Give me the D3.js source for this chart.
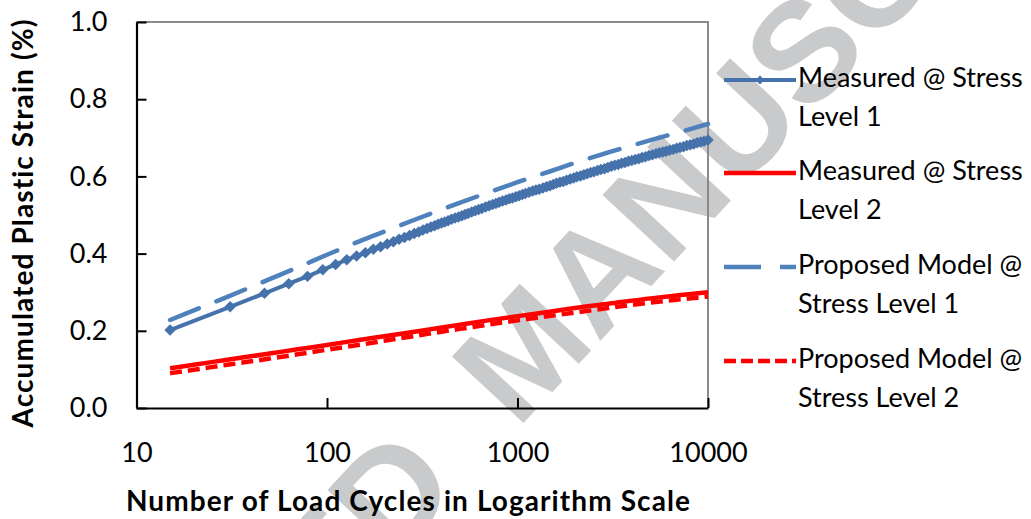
<!DOCTYPE html>
<html><head><meta charset="utf-8">
<script src="https://cdn.jsdelivr.net/npm/d3@7"></script>
<style>body{margin:0;background:#fff;} svg{display:block;}</style>
</head><body><svg id="c" width="1031" height="519"></svg>
<script>
// ---- data ----
const measured1Cycles = [15,31,47,63,79,95,111,127,143,159,175,191,207,223,239,255,271,287,303,319,335,351,367,383,399,
  415,432,450,470,490,510,530,550,575,600,625,650,680,710,740,770,800,835,870,905,940,980,1020,1060,1100,1150,1200,1250,1300,
  1360,1420,1480,1540,1600,1670,1740,1810,1890,1970,2050,2140,2230,2320,2420,2520,2630,2740,2860,2980,3110,3240,3380,3520,
  3670,3820,3980,4150,4330,4510,4700,4900,5110,5330,5550,5790,6030,6290,6560,6840,7130,7430,7740,8070,8410,8770,9140,9530,9999];
const measured1Strain = [0.202,0.262,0.297,0.322,0.341,0.358,0.372,0.384,0.394,0.402,0.411,0.418,0.425,0.431,0.437,0.442,0.447,0.452,0.456,0.461,0.465,0.469,0.472,0.476,0.479,
  0.482,0.485,0.489,0.492,0.495,0.498,0.501,0.504,0.508,0.511,0.514,0.517,0.521,0.524,0.527,0.530,0.533,0.536,0.539,0.542,0.544,0.547,0.550,0.553,0.556,0.559,0.562,0.565,0.567,
  0.570,0.573,0.576,0.579,0.582,0.585,0.587,0.590,0.593,0.596,0.599,0.601,0.604,0.607,0.610,0.612,0.615,0.618,0.620,0.623,0.626,0.629,0.631,0.634,
  0.636,0.639,0.641,0.644,0.646,0.649,0.651,0.654,0.656,0.659,0.661,0.663,0.665,0.668,0.670,0.673,0.675,0.677,0.680,0.682,0.684,0.687,0.689,0.691,0.694];
const curveCycles     = [15,20,30,50,70,100,150,200,300,500,700,1000,1500,2000,3000,5000,7000,10000];
const measured2Strain = [0.103,0.112,0.125,0.141,0.152,0.163,0.177,0.186,0.199,0.216,0.227,0.238,0.250,0.259,0.270,0.284,0.292,0.300];
const model1Strain    = [0.228,0.253,0.288,0.334,0.364,0.397,0.433,0.457,0.491,0.532,0.558,0.585,0.614,0.635,0.662,0.694,0.714,0.736];
const model2Strain    = [0.090,0.099,0.112,0.128,0.139,0.151,0.164,0.174,0.188,0.205,0.216,0.227,0.239,0.247,0.259,0.273,0.281,0.289];
const xTicks = [10,100,1000,10000];
const yTicks = [0,0.2,0.4,0.6,0.8,1.0];
const seriesNames = [["Measured @ Stress","Level 1"],["Measured @ Stress","Level 2"],["Proposed Model @","Stress Level 1"],["Proposed Model @","Stress Level 2"]];
const xTitle = "Number of Load Cycles in Logarithm Scale";
const yTitle = "Accumulated Plastic Strain (%)";
const watermarkWords = ["ACCEPTED","MANUSCRIPT"];

// ---- styles ----
const FONT = "Lato, 'Open Sans', sans-serif";
const BLUE_M = "#4672ab", BLUE_P = "#4f81bd", RED = "#ff0000";

const svg = d3.select("#c");
const x = d3.scaleLog().domain([10,10000]).range([136.5,708]);
const y = d3.scaleLinear().domain([0,1]).range([408,22]);

// watermark (behind everything)
const wm = svg.append("g").attr("transform","translate(517,430) rotate(-47)")
  .attr("font-family","'Liberation Sans', Arial, sans-serif")
  .attr("font-weight","bold").attr("font-size",142).attr("fill","#c9cacb");
wm.append("text").text(watermarkWords[0]).attr("x",-80).attr("text-anchor","end");
wm.append("text").text(watermarkWords[1]).attr("x",0).attr("text-anchor","start");

// frame (top/right gray)
svg.append("path").attr("d",`M${x(10)},${y(1)}H${x(10000)}V${y(0)}`)
  .attr("fill","none").attr("stroke","#8a8a8a").attr("stroke-width",2);

// axes
const gy = svg.append("g").attr("transform",`translate(${x(10)},0)`)
  .call(d3.axisLeft(y).tickValues(yTicks).tickFormat(d3.format(".1f")).tickSize(-10).tickSizeOuter(0).tickPadding(29));
const gx = svg.append("g").attr("transform",`translate(0,${y(0)})`)
  .call(d3.axisBottom(x).tickValues(xTicks).tickFormat(d3.format("d")).tickSize(-10).tickSizeOuter(0).tickPadding(35));
[gy,gx].forEach(g=>{
  g.select(".domain").attr("stroke","#000").attr("stroke-width",2.2);
  g.selectAll(".tick line").attr("stroke","#000").attr("stroke-width",2);
  g.selectAll(".tick text").attr("font-family",FONT).attr("font-size",27).attr("fill","#000");
});

// series
const pts1 = measured1Cycles.map((c,i)=>[c,measured1Strain[i]]);
const line = d3.line().x(d=>x(d[0])).y(d=>y(d[1]));
const smooth = d3.line().x(d=>x(d[0])).y(d=>y(d[1])).curve(d3.curveMonotoneX);
const mk = (arr)=>curveCycles.map((c,i)=>[c,arr[i]]);

svg.append("path").attr("d",line(pts1)).attr("fill","none").attr("stroke",BLUE_M).attr("stroke-width",4);
const diamond = d3.symbol(d3.symbolSquare, 66)();
svg.append("g").selectAll("path").data(pts1).join("path")
  .attr("d",diamond).attr("fill",BLUE_M)
  .attr("transform",d=>`translate(${x(d[0])},${y(d[1])}) rotate(45)`);

svg.append("path").attr("d",smooth(mk(measured2Strain))).attr("fill","none").attr("stroke",RED).attr("stroke-width",4.5);
svg.append("path").attr("d",smooth(mk(model1Strain))).attr("fill","none").attr("stroke",BLUE_P).attr("stroke-width",4.5)
  .attr("stroke-dasharray","31,19").attr("stroke-linecap","round");
svg.append("path").attr("d",smooth(mk(model2Strain))).attr("fill","none").attr("stroke",RED).attr("stroke-width",4.5)
  .attr("stroke-dasharray","12,6");

// legend
const legY = [80,173,267,361];
const lg = svg.append("g");
seriesNames.forEach((nm,i)=>{
  const yy = legY[i];
  const l = lg.append("line").attr("x1",724).attr("x2",796).attr("y1",yy).attr("y2",yy).attr("stroke-width",4.5);
  if(i===0){ l.attr("stroke",BLUE_M).attr("stroke-width",4);
    lg.append("path").attr("d",d3.symbol(d3.symbolSquare,40)()).attr("fill",BLUE_M).attr("transform",`translate(760,${yy}) rotate(45)`);}
  if(i===1) l.attr("stroke",RED);
  if(i===2) l.attr("stroke",BLUE_P).attr("stroke-dasharray","37,19");
  if(i===3) l.attr("stroke",RED).attr("stroke-dasharray","12,5");
  nm.forEach((t,j)=>{
    lg.append("text").text(t).attr("x",798).attr("y",yy+7+j*39)
      .attr("font-family",FONT).attr("font-size",27).attr("fill","#000");
  });
});

// axis titles
svg.append("text").text(xTitle).attr("x",408.5).attr("y",511).attr("text-anchor","middle")
  .attr("font-family",FONT).attr("font-weight","bold").attr("font-size",28).attr("letter-spacing",1.1).attr("fill","#000");
svg.append("text").text(yTitle).attr("transform","translate(33,223) rotate(-90)").attr("text-anchor","middle")
  .attr("font-family",FONT).attr("font-weight","bold").attr("font-size",28).attr("letter-spacing",1.1).attr("fill","#000");
</script>
</body></html>
